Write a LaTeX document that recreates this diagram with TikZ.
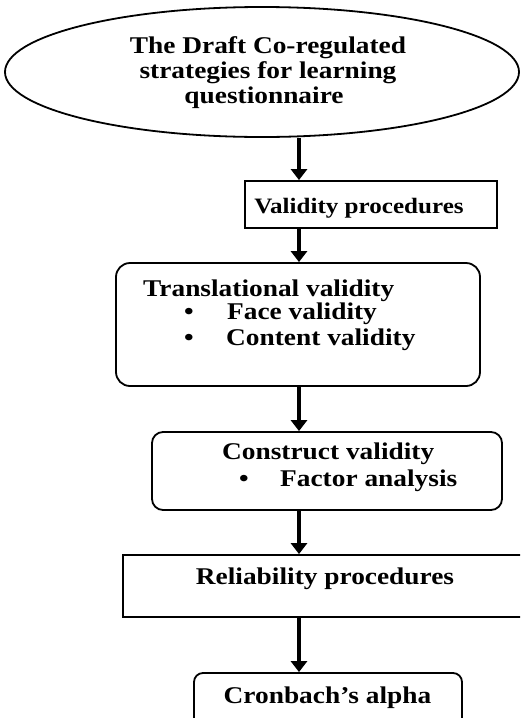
\documentclass[tikz,border=0pt]{standalone}
\usepackage{fontspec}
\setmainfont{Liberation Serif}[FakeStretch=1.14]
\usetikzlibrary{shapes.geometric,arrows.meta}
\begin{document}
\begin{tikzpicture}[x=1pt,y=-1pt,
  boxline/.style={draw=black, line width=1.8pt, inner sep=0pt},
  sqbox/.style={boxline, rectangle},
  rbox/.style={boxline, rectangle, rounded corners=14pt},
  lbl/.style={inner sep=0pt, font=\fontsize{24}{24}\selectfont\bfseries},
  smalllbl/.style={inner sep=0pt, font=\fontsize{22}{22}\selectfont\bfseries},
  arr/.style={line width=3.6pt, -{Triangle[width=16pt,length=11pt]}}]
\fill[white] (0,0) rectangle (520,718);
\useasboundingbox (0,0) rectangle (520,718);
\clip (0,0) rectangle (520,718);
\coordinate (ax) at (299,0);
% ellipse
\node[boxline, ellipse, minimum width=514pt, minimum height=130pt] (ell) at (262,72) {};
\node[lbl, anchor=base] (e1) at (268,53) {The Draft Co-regulated};
\node[lbl, anchor=base] (e2) at (268,78) {strategies for learning};
\node[lbl, anchor=base] (e3) at (264,103) {questionnaire};
% validity procedures
\node[sqbox, minimum width=252pt, minimum height=47pt] (valid) at (371,204.5) {};
\node[smalllbl, anchor=base] (vt) at (359,213) {Validity procedures};
% translational
\node[rbox, minimum width=364pt, minimum height=123pt] (trans) at (298,324.5) {};
\node[lbl, anchor=base west] (tt) at (143,296) {Translational validity};
\node[lbl, anchor=base] (tb1) at (189,319) {\textbullet};
\node[lbl, anchor=base west] (tt1) at (227,319) {Face validity};
\node[lbl, anchor=base] (tb2) at (189,345) {\textbullet};
\node[lbl, anchor=base west] (tt2) at (226,345) {Content validity};
% construct
\node[rbox, rounded corners=11pt, minimum width=350pt, minimum height=78pt] (cons) at (327,471) {};
\node[lbl, anchor=base west] (ct) at (222,459) {Construct validity};
\node[lbl, anchor=base] (cb1) at (244,486) {\textbullet};
\node[lbl, anchor=base west] (ct1) at (280,486) {Factor analysis};
% reliability
\node[sqbox, minimum width=400pt, minimum height=62pt] (rel) at (323,586) {};
\node[lbl, anchor=base] (rt) at (325,584) {Reliability procedures};
% cronbach
\node[rbox, rounded corners=9pt, minimum width=268pt, minimum height=70pt] (cron) at (328,708) {};
\node[lbl, anchor=base] (crt) at (327.5,703) {Cronbach’s alpha};
% arrows
\draw[arr] (ell.south -| ax) -- (valid.north -| ax);
\draw[arr] (valid.south -| ax) -- (trans.north -| ax);
\draw[arr] (trans.south -| ax) -- (cons.north -| ax);
\draw[arr] (cons.south -| ax) -- (rel.north -| ax);
\draw[arr] (rel.south -| ax) -- (cron.north -| ax);
\end{tikzpicture}
\end{document}
